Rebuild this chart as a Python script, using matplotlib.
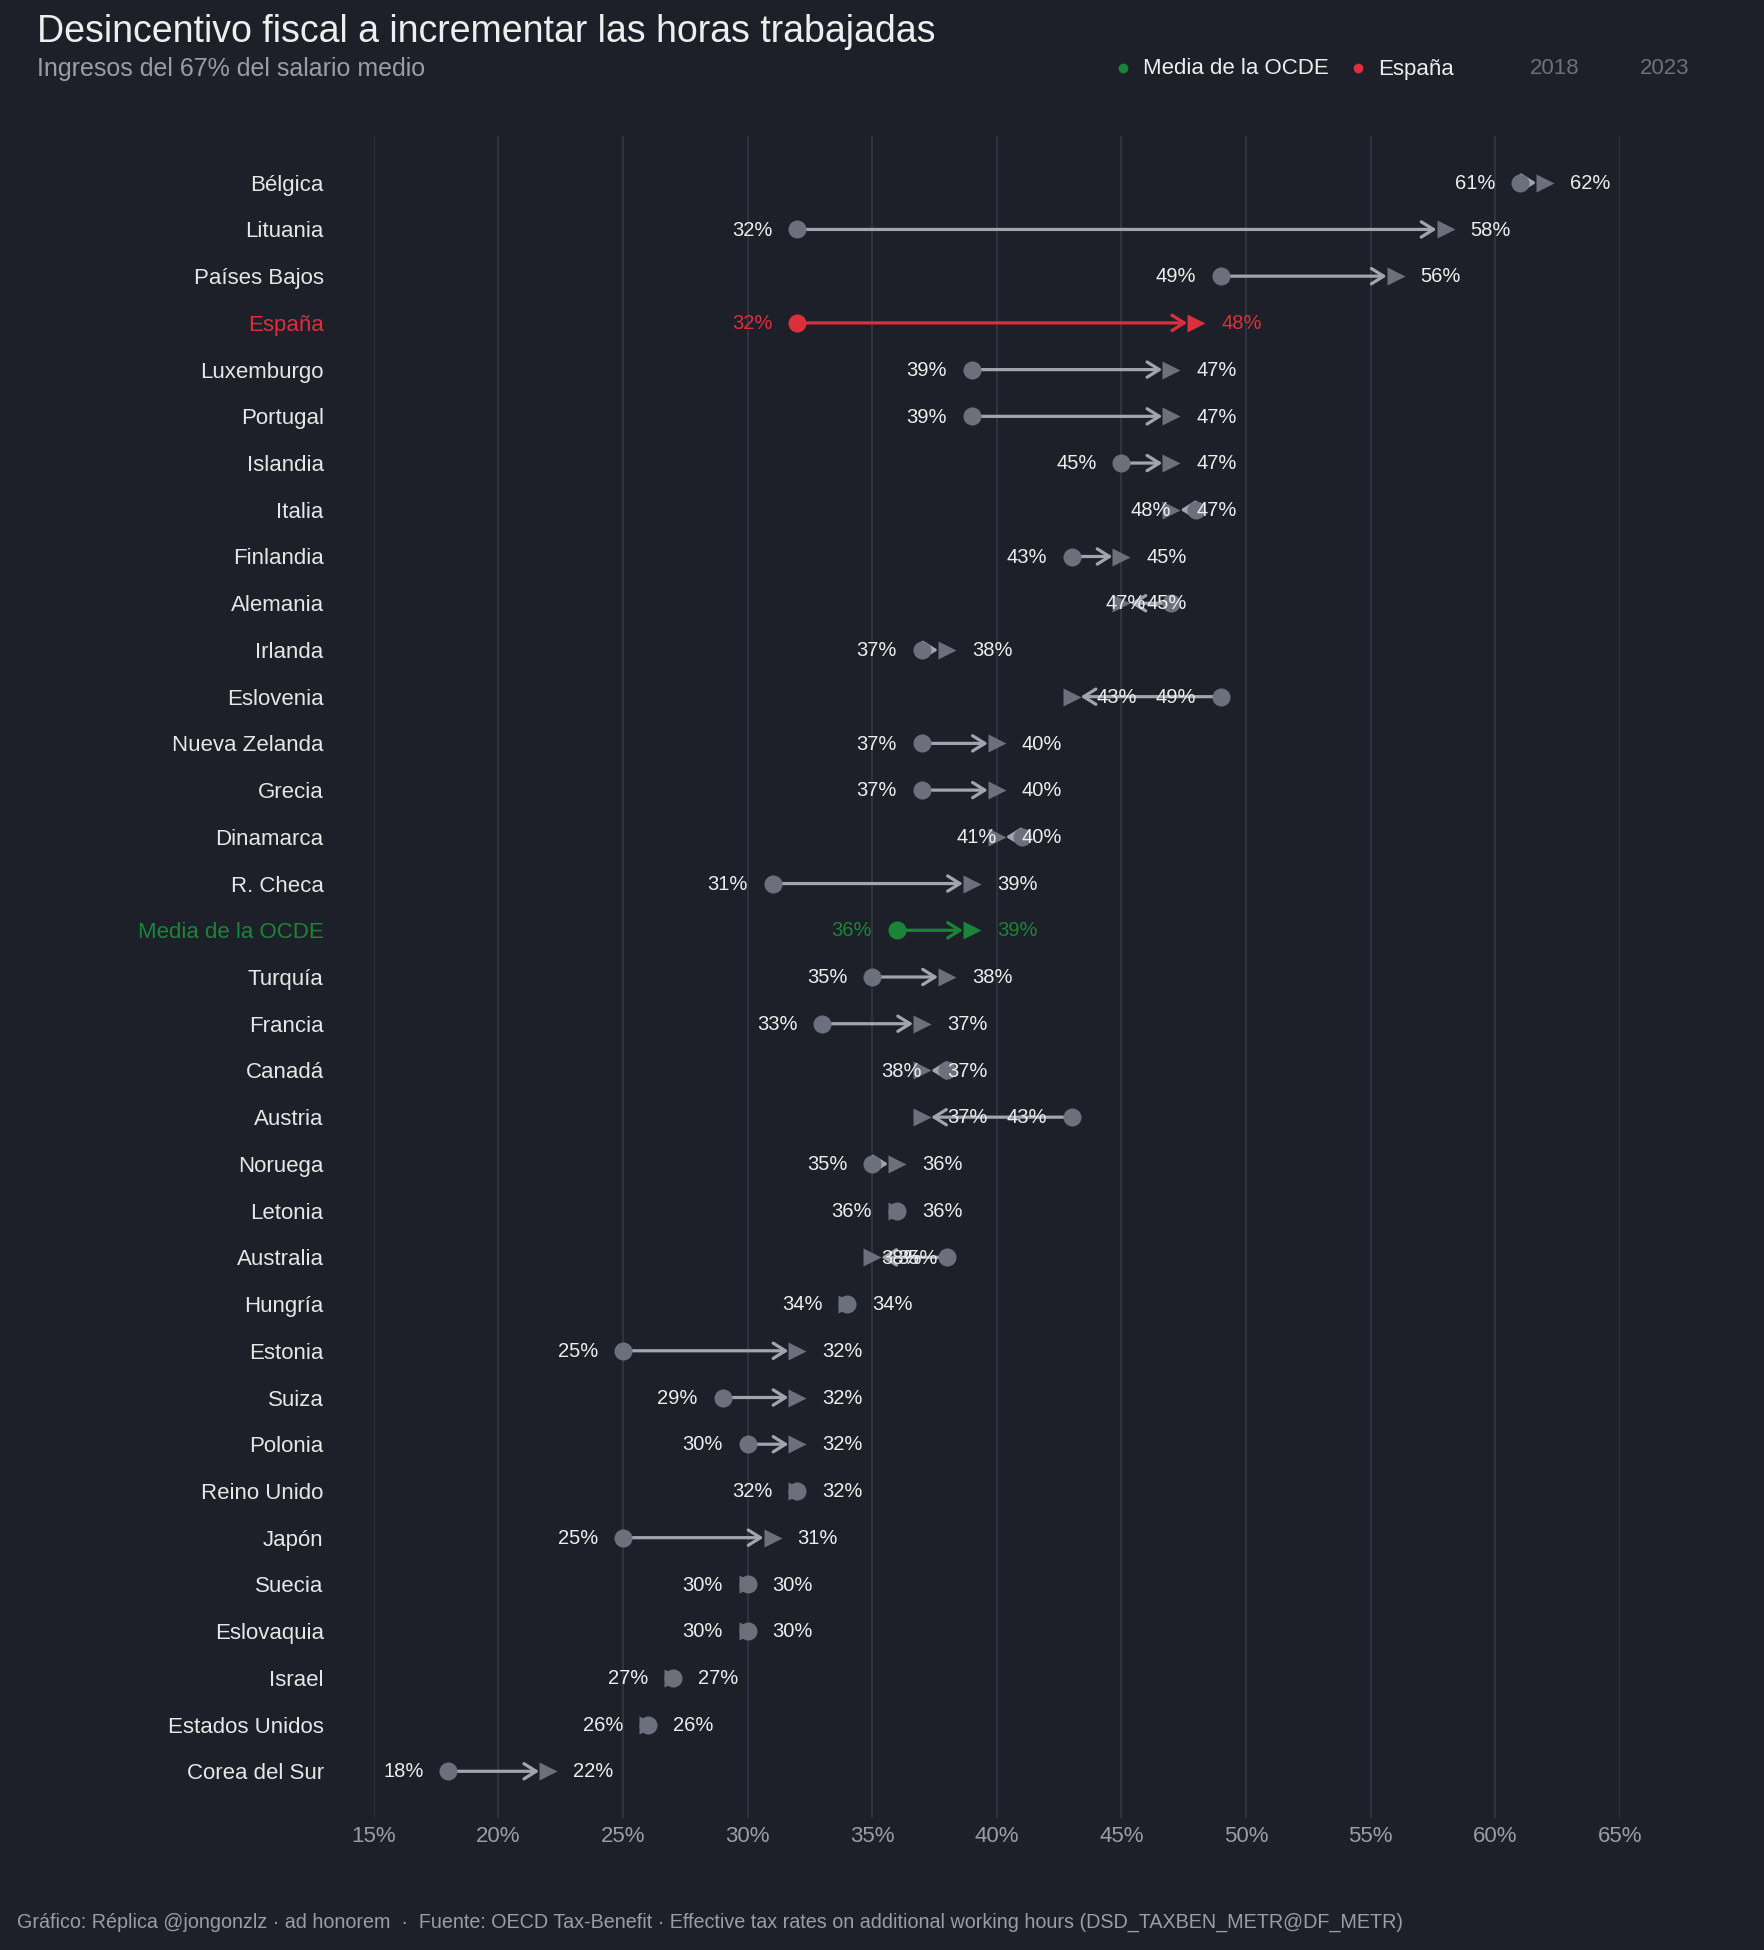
import matplotlib
matplotlib.use("Agg")
import matplotlib.pyplot as plt
import numpy as np

plt.rcParams['font.family'] = ['Liberation Sans', 'DejaVu Sans']

paises = ["Bélgica", "Lituania", "Países Bajos", "España", "Luxemburgo", "Portugal",
          "Islandia", "Italia", "Finlandia", "Alemania", "Irlanda", "Eslovenia",
          "Nueva Zelanda", "Grecia", "Dinamarca", "R. Checa", "Media de la OCDE",
          "Turquía", "Francia", "Canadá", "Austria", "Noruega", "Letonia", "Australia",
          "Hungría", "Estonia", "Suiza", "Polonia", "Reino Unido", "Japón", "Suecia",
          "Eslovaquia", "Israel", "Estados Unidos", "Corea del Sur"]
v2018 = [61, 32, 49, 32, 39, 39, 45, 48, 43, 47, 37, 49, 37, 37, 41, 31, 36,
         35, 33, 38, 43, 35, 36, 38, 34, 25, 29, 30, 32, 25, 30, 30, 27, 26, 18]
v2023 = [62, 58, 56, 48, 47, 47, 47, 47, 45, 45, 38, 43, 40, 40, 40, 39, 39,
         38, 37, 37, 37, 36, 36, 35, 34, 32, 32, 32, 32, 31, 30, 30, 27, 26, 22]
ticks = [15, 20, 25, 30, 35, 40, 45, 50, 55, 60, 65]

BG = '#1e2029'
GRID = '#30333e'
GRIS_M = '#6c707c'
GRIS_L = '#a3a5ae'
ROJO = '#dc2f3c'
VERDE = '#1a8438'
BLANCO = '#ededed'
GRIS_T = '#9a9ca6'

W, H = 1764, 1950
fig = plt.figure(figsize=(W / 100, H / 100), dpi=100, facecolor=BG)
x0, x1 = 373.7, 1620
ytop, ybot = 136, 1818
ax = fig.add_axes([x0 / W, 1 - ybot / H, (x1 - x0) / W, (ybot - ytop) / H])
ax.set_facecolor(BG)
for s in ax.spines.values():
    s.set_visible(False)

n = len(paises)
ax.set_xlim(15, 65)
ax.set_ylim(n, -1)
ax.set_xticks(ticks)
ax.set_xticklabels([f"{t}%" for t in ticks])
ax.grid(axis='x', color=GRID, lw=1.5)
ax.set_axisbelow(True)
ax.tick_params(axis='x', length=0, pad=6, labelsize=16, labelcolor=GRIS_T)
ax.set_yticks(range(n))
ax.set_yticklabels(paises)
ax.tick_params(axis='y', length=0, pad=36, labelsize=16, labelcolor='#e6e6e6')

for i, (p, a, b) in enumerate(zip(paises, v2018, v2023)):
    if p == "España":
        cm, cl, ct, clab = ROJO, ROJO, ROJO, ROJO
    elif p == "Media de la OCDE":
        cm, cl, ct, clab = VERDE, VERDE, VERDE, VERDE
    else:
        cm, cl, ct, clab = GRIS_M, GRIS_L, BLANCO, '#e6e6e6'
    ax.get_yticklabels()[i].set_color(clab)
    if a != b:
        ax.annotate('', xy=(b, i), xytext=(a, i),
                    arrowprops=dict(arrowstyle='->,head_length=0.4,head_width=0.25',
                                    color=cl, lw=2.3, shrinkA=0, shrinkB=6.5,
                                    mutation_scale=22),
                    zorder=2, annotation_clip=False)
    # el triángulo de 2023 siempre apunta a la derecha
    ax.plot(b, i, marker='>', ms=13, color=cm, mec='none', zorder=3, clip_on=False)
    ax.plot(a, i, marker='o', ms=13, color=cm, mec='none', zorder=4, clip_on=False)
    ax.annotate(f"{a}%", (a, i), xytext=(-18, -0.5), textcoords='offset points',
                ha='right', va='center', fontsize=14.5, color=ct, zorder=6)
    ax.annotate(f"{b}%", (b, i), xytext=(18, -0.5), textcoords='offset points',
                ha='left', va='center', fontsize=14.5, color=ct, zorder=6)

def px(x, y):
    return x / W, 1 - y / H

fig.text(*px(37, 32), "Desincentivo fiscal a incrementar las horas trabajadas",
         fontsize=27, color='#eeeeee', ha='left', va='center')
fig.text(*px(37, 69), "Ingresos del 67% del salario medio",
         fontsize=18, color=GRIS_T, ha='left', va='center')

# leyenda
fig.lines.append(plt.Line2D([1123 / W], [1 - 68 / H], marker='o', ms=7, color=VERDE,
                            mec='none', transform=fig.transFigure))
fig.text(*px(1143, 69), "Media de la OCDE", fontsize=16, color=BLANCO, va='center')
fig.lines.append(plt.Line2D([1358 / W], [1 - 68 / H], marker='o', ms=7, color=ROJO,
                            mec='none', transform=fig.transFigure))
fig.text(*px(1378, 69), "España", fontsize=16, color=BLANCO, va='center')
fig.text(*px(1530, 69), "2018", fontsize=16, color=GRIS_M, va='center')
fig.text(*px(1640, 69), "2023", fontsize=16, color=GRIS_M, va='center')

fig.text(*px(17, 1922),
         "Gráfico: Réplica @jongonzlz · ad honorem  ·  Fuente: OECD Tax-Benefit · "
         "Effective tax rates on additional working hours (DSD_TAXBEN_METR@DF_METR)",
         fontsize=14.2, color=GRIS_T, ha='left', va='center')

fig.savefig("out.png", dpi=100, facecolor=BG)
